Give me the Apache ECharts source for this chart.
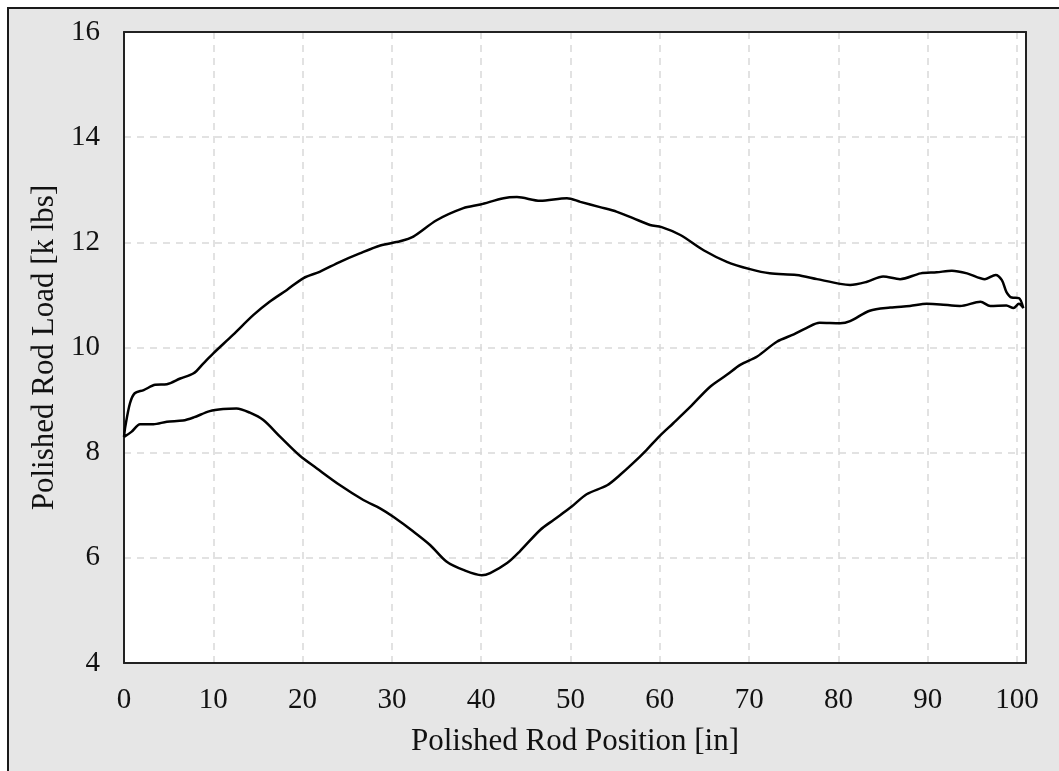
<!DOCTYPE html>
<html>
<head>
<meta charset="utf-8">
<script src="https://cdn.jsdelivr.net/npm/echarts@6/dist/echarts.min.js"></script>
<style>
  html, body { margin: 0; padding: 0; background: #ffffff; }
  #frame { position: absolute; left: 7px; top: 7px; width: 1070px; height: 780px; background: #e6e6e6; border: 2px solid #1a1a1a; box-sizing: border-box; }
  #chart { position: absolute; left: 0; top: 0; width: 1059px; height: 771px; }
</style>
</head>
<body>
<div id="frame"></div>
<div id="chart"></div>
<script>
// Upstroke (upper curve), in path order
const upX = [0, 0.15, 0.67, 1.2, 2.2, 3.5, 4.8, 6.3, 7.8, 8.9, 10.0, 12.2, 14.5, 16.3, 18.2, 20.1, 21.9, 24.2, 26.4, 28.7, 30.9, 32.4, 35.0, 38.0, 39.9, 42.5, 44.0, 46.6, 49.6, 51.1, 53.3, 55.2, 57.0, 58.9, 60.2, 62.3, 64.9, 67.5, 70.1, 72.3, 75.3, 77.6, 80.2, 81.3, 83.2, 85.0, 86.9, 89.2, 91.0, 92.7, 94.4, 96.4, 97.6, 98.3, 98.8, 99.4, 100.2, 100.7];
const upY = [8.30, 8.50, 8.94, 9.13, 9.19, 9.29, 9.30, 9.41, 9.51, 9.70, 9.89, 10.24, 10.62, 10.87, 11.09, 11.32, 11.44, 11.63, 11.79, 11.94, 12.02, 12.11, 12.42, 12.65, 12.72, 12.84, 12.86, 12.79, 12.84, 12.77, 12.67, 12.58, 12.46, 12.33, 12.29, 12.14, 11.85, 11.63, 11.49, 11.41, 11.38, 11.30, 11.21, 11.19, 11.25, 11.35, 11.30, 11.41, 11.43, 11.46, 11.41, 11.30, 11.38, 11.28, 11.06, 10.95, 10.94, 10.75];
// Downstroke (lower curve), in path order (right to left)
const dnX = [100.7, 100.2, 99.6, 98.8, 97.0, 95.9, 93.6, 91.4, 89.9, 88.0, 85.8, 83.5, 81.3, 80.2, 77.9, 76.4, 75.0, 73.1, 70.9, 69.0, 67.5, 65.6, 63.4, 61.5, 60.0, 58.5, 57.0, 55.5, 54.1, 51.8, 50.1, 48.1, 46.6, 44.3, 42.9, 41.0, 40.05, 38.0, 36.1, 34.3, 32.4, 30.15, 28.67, 26.8, 24.2, 21.6, 19.7, 17.5, 15.6, 14.1, 12.6, 11.1, 9.6, 7.8, 6.6, 4.8, 3.3, 1.8, 0.86, 0];
const dnY = [10.75, 10.83, 10.75, 10.80, 10.79, 10.87, 10.79, 10.82, 10.83, 10.79, 10.76, 10.70, 10.50, 10.46, 10.47, 10.37, 10.25, 10.11, 9.83, 9.67, 9.48, 9.25, 8.87, 8.56, 8.32, 8.05, 7.80, 7.57, 7.38, 7.21, 6.97, 6.72, 6.53, 6.12, 5.90, 5.71, 5.67, 5.77, 5.93, 6.24, 6.50, 6.78, 6.94, 7.10, 7.38, 7.70, 7.94, 8.30, 8.62, 8.76, 8.84, 8.83, 8.79, 8.67, 8.61, 8.59, 8.54, 8.54, 8.40, 8.30];

const xName = 'Polished Rod Position [in]';
const yName = 'Polished Rod Load [k lbs]';

const loop = upX.map((x, i) => [x, upY[i]]).concat(dnX.map((x, i) => [x, dnY[i]]));

const FONT = '"Liberation Serif", "Times New Roman", serif';
const GRIDLINE = { show: true, lineStyle: { color: '#d9d9d9', width: 1.5, type: [7, 6] } };
const chart = echarts.init(document.getElementById('chart'), null, { renderer: 'canvas' });
chart.setOption({
  backgroundColor: 'transparent',
  animation: false,
  grid: {
    left: 124, right: 33, top: 32, bottom: 108,
    show: true, backgroundColor: '#ffffff', borderColor: '#ffffff', borderWidth: 0
  },
  xAxis: [{
    type: 'value', min: 0, max: 101, interval: 10, position: 'bottom',
    name: xName, nameLocation: 'middle', nameGap: 63,
    nameTextStyle: { fontFamily: FONT, fontSize: 31, color: '#111' },
    axisLine: { show: true, lineStyle: { color: '#222', width: 2 } },
    axisTick: { show: false },
    axisLabel: {
      fontFamily: FONT, fontSize: 29, color: '#111', margin: 23,
      formatter: v => (v % 10 === 0 ? String(v) : '')
    },
    splitLine: GRIDLINE
  }, {
    type: 'value', min: 0, max: 101, position: 'top',
    axisLine: { show: true, onZero: false, lineStyle: { color: '#222', width: 2 } },
    axisTick: { show: false }, axisLabel: { show: false }, splitLine: { show: false }
  }],
  yAxis: [{
    type: 'value', min: 4, max: 16, interval: 2, position: 'left',
    name: yName, nameLocation: 'middle', nameGap: 60,
    nameTextStyle: { fontFamily: FONT, fontSize: 31, color: '#111' },
    axisLine: { show: true, lineStyle: { color: '#222', width: 2 } },
    axisTick: { show: false },
    axisLabel: { fontFamily: FONT, fontSize: 29, color: '#111', margin: 24 },
    splitLine: GRIDLINE
  }, {
    type: 'value', min: 4, max: 16, position: 'right',
    axisLine: { show: true, onZero: false, lineStyle: { color: '#222', width: 2 } },
    axisTick: { show: false }, axisLabel: { show: false }, splitLine: { show: false }
  }],
  series: [{
    type: 'line', data: loop, showSymbol: false, smooth: 0.3,
    xAxisIndex: 0, yAxisIndex: 0,
    lineStyle: { color: '#000', width: 2.5 }, z: 5
  }]
});
</script>
</body>
</html>
